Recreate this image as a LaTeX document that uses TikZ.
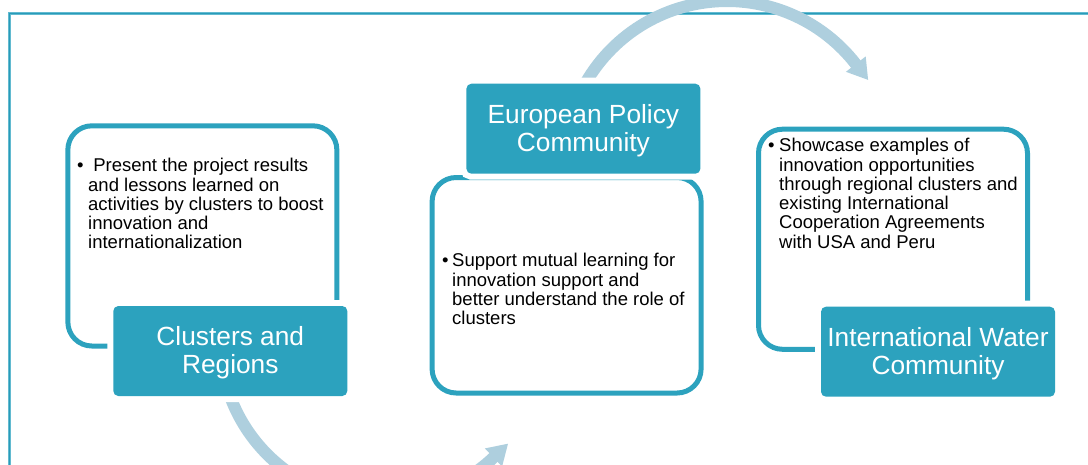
\documentclass[tikz,border=0pt]{standalone}
\usepackage{fontspec}
\setmainfont{Liberation Sans}
\definecolor{tealfill}{RGB}{44,162,190}
\definecolor{arcblue}{RGB}{174,207,222}
\definecolor{framelight}{RGB}{98,186,208}
\definecolor{framedark}{RGB}{40,155,185}
\newcommand{\bul}[1]{\makebox[#1][l]{•}}
\begin{document}
\begin{tikzpicture}[x=1pt,y=-1pt,
  whitebox/.style={draw=tealfill, line width=5pt, rounded corners=24pt, fill=white,
    inner sep=0pt, minimum width=269pt},
  tealbox/.style={fill=tealfill, rounded corners=5pt, inner sep=0pt,
    minimum width=234pt, minimum height=90pt,
    preaction={draw=white, line width=12pt}},
  titletext/.style={text=white, align=center, inner sep=0pt,
    font=\fontsize{26.3pt}{27.7pt}\selectfont},
  bodytext/.style={anchor=base west, inner sep=0pt,
    font=\fontsize{18.5pt}{19.3pt}\selectfont},
  arcshaft/.style={draw=arcblue, line width=12pt},
  archead/.style={fill=arcblue},
  frameline/.style={draw=framelight, line width=3pt},
  framecore/.style={draw=framedark, line width=1pt}
]
\useasboundingbox (0,0) rectangle (1088,464);
\clip (0,0) rectangle (1088,464);

% frame
\draw[frameline] (9.7,480) -- (9.7,13.8) -- (1100,13.8);
\draw[framecore] (9.7,480) -- (9.7,13.8) -- (1100,13.8);

% arcs
\coordinate (topc) at (727,164);
\coordinate (botc) at (382,340);
\draw[arcshaft] (topc) ++(-152:163) arc[start angle=-152, end angle=-37.5, radius=163];
\fill[archead] (865.7,56.4) -- (868.1,79.9) -- (845.9,71.8) -- cycle;
\draw[arcshaft] (botc) ++(163:162) arc[start angle=163, end angle=46.2, radius=162];
\fill[archead] (502.1,466.6) -- (508.0,443.7) -- (484.9,448.4) -- cycle;

% white boxes
\node[whitebox, minimum height=220.2pt] (w1) at (202.35,235.9) {};
\node[whitebox, minimum height=215.5pt] (w2) at (566.6,285.25) {};
\node[whitebox, minimum height=220.1pt] (w3) at (893,239.25) {};

% teal boxes
\node[tealbox] (c1) at (230.3,351) {};
\node[tealbox] (c2) at (583.4,128.7) {};
\node[tealbox] (c3) at (938,351.7) {};
\node[titletext] (c1t) at ([yshift=-2pt]c1.center) {Clusters and\\Regions};
\node[titletext] (c2t) at ([yshift=-2pt]c2.center) {European Policy\\Community};
\node[titletext] (c3t) at ([yshift=-2pt]c3.center) {International Water\\Community};

% body texts
\node[bodytext] (b1) at (77,171.7) {\parbox[t]{300pt}{\raggedright
  \bul{11pt}\ Present the project results\\
  \hspace*{11pt}and lessons learned on\\
  \hspace*{11pt}activities by clusters to boost\\
  \hspace*{11pt}innovation and\\
  \hspace*{11pt}internationalization}};
\node[bodytext] (b2) at (442,266.7) {\parbox[t]{300pt}{\raggedright
  \bul{10pt}Support mutual learning for\\
  \hspace*{10pt}innovation support and\\
  \hspace*{10pt}better understand the role of\\
  \hspace*{10pt}clusters}};
\node[bodytext] (b3) at (768,151.7) {\parbox[t]{300pt}{\raggedright
  \bul{11pt}Showcase examples of\\
  \hspace*{11pt}innovation opportunities\\
  \hspace*{11pt}through regional clusters and\\
  \hspace*{11pt}existing International\\
  \hspace*{11pt}Cooperation Agreements\\
  \hspace*{11pt}with USA and Peru}};
\end{tikzpicture}
\end{document}
